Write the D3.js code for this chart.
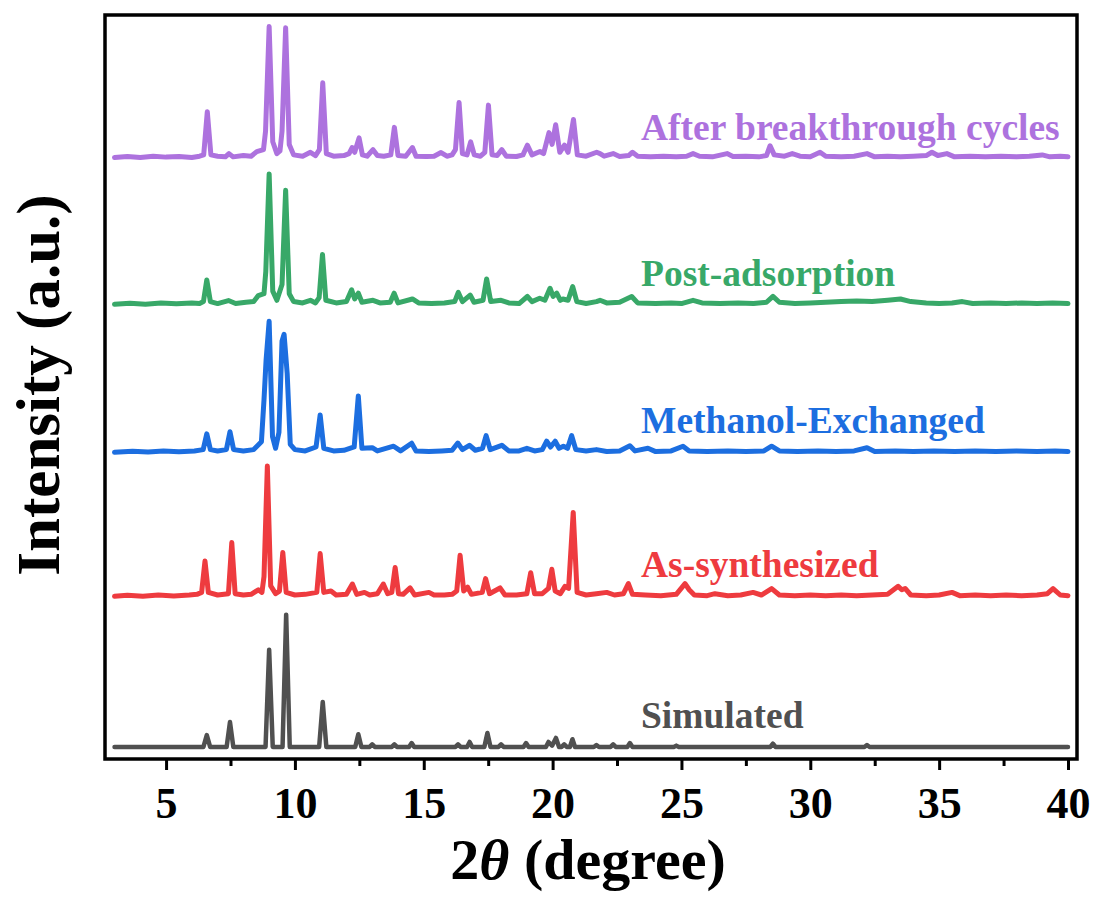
<!DOCTYPE html>
<html>
<head>
<meta charset="utf-8">
<script src="https://cdn.jsdelivr.net/npm/d3@7"></script>
<style>
  html, body { margin: 0; padding: 0; background: #fff; }
  svg { display: block; }
  text { font-family: "Liberation Serif", "Times New Roman", serif; font-weight: bold; }
</style>
</head>
<body>
<svg id="chart" width="1096" height="899"></svg>
<script>
// Series names, colours and vertical offsets (intensity units, stacked)
const seriesNames = ["After breakthrough cycles", "Post-adsorption", "Methanol-Exchanged", "As-synthesized", "Simulated"];
const seriesColors = ["#ad72de", "#38a868", "#1c6ee0", "#ee3b3f", "#505050"];
const seriesOffsets = [450, 338, 225, 115, 0];

// Traces: [2θ (degree), intensity (a.u., strongest peak ≈ 100)]
const afterCycles = [[3,0],[3.5,0.8],[4,0],[4.5,1],[5,0.3],[5.5,0.8],[6,0],[6.3,1],[6.46,2],[6.6,35],[6.74,2],[7,1],[7.3,0.5],[7.44,3],[7.6,0.5],[8,1.5],[8.3,1],[8.52,4.5],[8.78,6],[8.86,20],[9.0,100],[9.14,12],[9.3,3],[9.42,5],[9.5,20],[9.64,99],[9.78,10],[9.95,2],[10.3,1],[10.6,4],[10.8,1.5],[10.95,6],[11.08,57],[11.22,3],[11.5,1],[11.9,1.5],[12.1,3],[12.22,7.6],[12.32,4],[12.49,15],[12.62,2],[12.8,1],[13.03,6],[13.2,1.5],[13.45,1],[13.72,2],[13.86,23],[14.0,1.5],[14.3,1],[14.56,7.6],[14.7,1],[15.1,0.8],[15.4,1],[15.67,3.8],[15.9,1],[16.1,2],[16.23,6],[16.37,42],[16.5,3],[16.68,2],[16.82,12],[16.96,2],[17.2,1],[17.37,4],[17.51,40],[17.65,2],[17.85,1.5],[18.03,6],[18.2,1],[18.6,0.8],[18.85,2],[19.02,9.4],[19.2,2],[19.51,4.6],[19.65,3],[19.86,19],[19.98,10],[20.12,25],[20.28,4],[20.46,9.4],[20.6,4],[20.81,29],[20.96,2],[21.3,1],[21.71,4],[21.84,3],[22.0,1],[22.35,3],[22.6,0.8],[22.95,1.5],[23.1,4],[23.3,1],[23.8,0.5],[24.3,1],[24.8,0.5],[25.2,1],[25.45,3],[25.7,1],[26.2,0.5],[26.77,3],[27.0,0.8],[27.5,1],[28.0,0.5],[28.3,1.5],[28.44,9],[28.6,2],[29.0,1],[29.3,3],[29.6,1],[30.0,0.5],[30.38,4],[30.6,1],[31.2,0.5],[31.7,1],[32.2,3],[32.5,0.5],[33.0,1],[33.5,0.5],[34.0,1],[34.5,1.5],[34.72,4],[34.95,1.5],[35.3,3],[35.6,0.5],[36.2,1],[36.8,0.5],[37.4,1],[38.0,0.5],[38.5,1],[39.0,2],[39.3,0.5],[39.7,1],[40,0.5]];

const postAdsorption = [[3,0],[3.6,0.8],[4.2,0],[4.8,1],[5.4,0.3],[6.0,1],[6.3,0.5],[6.45,2],[6.58,18.5],[6.72,2],[7.0,0.5],[7.42,2.8],[7.7,0.5],[8.1,1.5],[8.4,2],[8.58,6.6],[8.8,8],[8.87,25],[9.0,99.5],[9.14,10],[9.3,3],[9.5,15],[9.64,87],[9.78,8],[9.95,2],[10.3,1],[10.6,3],[10.8,1],[10.94,5],[11.07,38],[11.2,3],[11.6,1],[12.0,2],[12.2,11],[12.32,4],[12.46,8.4],[12.6,1.5],[13.03,3],[13.3,1],[13.7,1.5],[13.85,8.4],[14.0,1],[14.56,4],[14.8,1],[15.3,0.5],[15.8,1],[16.2,2],[16.34,9],[16.5,2],[16.8,7],[16.95,1.5],[17.3,3],[17.44,19.3],[17.6,2],[18.0,3],[18.3,1],[18.7,0.5],[19.02,5.9],[19.2,2],[19.5,4.6],[19.7,3],[19.9,12.2],[20.02,6],[20.16,8.4],[20.3,3],[20.4,4],[20.6,3],[20.78,13.4],[20.94,2],[21.3,0.5],[21.7,2],[21.84,3],[22.1,1],[22.6,1.5],[23.07,5.9],[23.3,1],[24.0,0.5],[24.6,1],[25.0,0.5],[25.45,3],[25.8,1],[26.5,0.5],[27.2,1],[27.8,0.5],[28.3,1.5],[28.55,6],[28.8,1.5],[29.4,0.5],[30.0,1],[30.6,1.5],[31.2,2],[31.8,2.5],[32.4,2],[33.0,3],[33.5,4],[33.9,2],[34.5,1],[35.0,0.5],[35.5,1],[35.9,2],[36.3,0.5],[37.0,1],[37.6,0.5],[38.2,1],[38.8,0.5],[39.4,1],[40,0.5]];

const methanolExchanged = [[3,0],[3.7,0.8],[4.3,0.2],[4.9,1],[5.5,0.3],[6.1,1],[6.44,2],[6.58,14],[6.72,2],[7.0,1],[7.34,2],[7.48,15.7],[7.62,2],[8.0,1],[8.4,2],[8.7,8],[8.8,40],[8.88,70],[9.0,100],[9.13,12],[9.25,3],[9.38,15],[9.5,85],[9.58,90],[9.7,60],[9.82,6],[10.0,2],[10.4,1],[10.82,4],[10.98,28.5],[11.12,3],[11.5,1],[11.9,1.5],[12.3,4],[12.46,43],[12.6,3],[13.0,3.5],[13.2,1],[13.83,4.6],[14.1,1],[14.53,6.9],[14.7,1],[15.2,0.5],[15.7,1],[16.1,1.5],[16.32,7],[16.5,2],[16.77,5.3],[17.0,1.5],[17.28,3],[17.42,12.7],[17.58,2],[18.03,5.3],[18.3,1],[18.7,1],[19.0,3],[19.3,1],[19.6,2],[19.77,8.4],[19.92,4],[20.1,8.4],[20.25,3],[20.42,4.6],[20.58,3],[20.74,12.7],[20.9,2],[21.3,1],[21.7,2],[22.1,0.5],[22.6,1],[23.0,5],[23.2,1],[23.7,3],[24.0,0.5],[24.6,1],[25.06,4.6],[25.3,1],[26.0,0.5],[26.8,1],[27.5,0.5],[28.2,1],[28.5,4.6],[28.8,1],[29.5,0.5],[30.3,1],[31.0,0.5],[31.7,1],[32.2,3.4],[32.5,0.5],[33.3,1],[34.0,0.5],[34.8,1],[35.6,0.5],[36.4,1],[37.2,0.5],[38.0,1],[38.8,0.5],[39.5,1],[40,0.5]];

const asSynthesized = [[3,0],[3.5,0.8],[4.1,0],[4.7,1],[5.3,0.3],[5.9,1],[6.2,1.5],[6.38,3],[6.51,27],[6.64,3],[7.0,1],[7.42,2],[7.55,41],[7.68,2],[8.0,1],[8.3,1.5],[8.58,5],[8.72,3],[8.8,15],[8.93,99.5],[9.06,8],[9.25,2],[9.4,4],[9.53,33.4],[9.66,3],[10.0,1],[10.4,1.5],[10.85,3],[10.98,32.6],[11.12,3],[11.4,4],[11.6,1],[12.0,1.5],[12.23,9.4],[12.4,1.5],[12.7,3],[12.9,1],[13.2,2],[13.43,9.4],[13.6,2],[13.76,3],[13.89,22],[14.02,2],[14.2,1.5],[14.47,6.4],[14.65,1],[15.2,3],[15.4,1],[15.8,1],[16.1,1.5],[16.28,4],[16.41,31.3],[16.55,4],[16.7,7],[16.85,1.5],[17.27,3],[17.4,13.5],[17.55,2],[17.96,6.4],[18.15,1],[18.6,1],[19.0,2],[19.15,18],[19.3,2],[19.6,2],[19.84,6],[19.97,20.6],[20.1,4],[20.3,2],[20.48,7.6],[20.62,6],[20.8,64],[20.95,3],[21.3,1],[21.7,2],[22.1,3],[22.4,1],[22.75,2],[22.94,9.7],[23.1,1.5],[23.6,1],[24.2,0.5],[24.8,1.5],[25.14,9.7],[25.3,5],[25.5,1],[26.0,0.5],[26.3,2],[26.8,0.5],[27.3,1],[27.78,3],[28.1,1],[28.5,5.9],[28.8,1],[29.4,0.5],[30.0,1],[30.6,0.5],[31.2,1],[31.8,0.5],[32.4,1],[33.0,1.5],[33.41,7.6],[33.55,5],[33.68,6],[33.9,1],[34.5,0.5],[35.0,1],[35.5,3],[35.8,0.5],[36.4,1],[37.0,0.5],[37.6,1],[38.2,0.5],[38.8,1],[39.2,2],[39.42,5.9],[39.7,1],[40,0.5]];

const simulated = [[3,0],[6.45,0],[6.58,9],[6.71,0],[7.35,0],[7.48,19],[7.61,0],[8.86,0],[9.0,74.3],[9.14,0],[9.52,0],[9.66,101],[9.8,0],[10.94,0],[11.08,34.4],[11.22,0],[12.34,0],[12.46,9.7],[12.58,0],[12.9,0],[13.0,2],[13.1,0],[13.76,0],[13.86,2],[13.96,0],[14.43,0],[14.53,3],[14.63,0],[16.23,0],[16.33,2],[16.43,0],[16.68,0],[16.78,3.8],[16.88,0],[17.35,0],[17.47,10.7],[17.59,0],[17.9,0],[18.0,2],[18.1,0],[18.87,0],[18.97,3],[19.07,0],[19.74,0],[19.84,3.8],[19.98,1],[20.13,6.9],[20.25,0],[20.35,0],[20.45,2],[20.55,0],[20.67,0],[20.77,5.9],[20.87,0],[21.6,0],[21.7,1.5],[21.8,0],[22.25,0],[22.35,2],[22.45,0],[22.9,0],[23.0,3],[23.1,0],[24.7,0],[24.8,1],[24.9,0],[28.45,0],[28.55,2.5],[28.65,0],[32.1,0],[32.2,1.5],[32.3,0],[40,0]];

const seriesData = [afterCycles, postAdsorption, methanolExchanged, asSynthesized, simulated];

// Axis ticks
const majorTicks = [5, 10, 15, 20, 25, 30, 35, 40];
const minorTicks = [7.5, 12.5, 17.5, 22.5, 27.5, 32.5, 37.5];

// Layout
const frame = { left: 105, right: 1077, top: 15, bottom: 759 };
const svg = d3.select("#chart");

const x = d3.scaleLinear().domain([2.63, 40.35]).range([frame.left, frame.right]);
const y = d3.scaleLinear().domain([-9.2, 558.8]).range([frame.bottom, frame.top]);

// Traces
const line = d3.line().x(d => x(d[0])).y(d => y(d[1]));
seriesData.forEach((data, i) => {
  const off = seriesOffsets[i];
  svg.append("path")
    .datum(data.map(d => [d[0], d[1] + off]))
    .attr("fill", "none")
    .attr("stroke", seriesColors[i])
    .attr("stroke-width", i === 4 ? 4.5 : 5)
    .attr("stroke-linejoin", "round")
    .attr("stroke-linecap", "round")
    .attr("d", line);
});

// Series labels
const labelBaselines = [140, 286, 433, 577, 728];
seriesNames.forEach((name, i) => {
  svg.append("text")
    .attr("x", 641)
    .attr("y", labelBaselines[i])
    .attr("fill", seriesColors[i])
    .attr("font-size", 37.5)
    .text(name);
});

// Frame
svg.append("rect")
  .attr("x", frame.left).attr("y", frame.top)
  .attr("width", frame.right - frame.left)
  .attr("height", frame.bottom - frame.top)
  .attr("fill", "none")
  .attr("stroke", "#000")
  .attr("stroke-width", 3.5);

// Bottom axis: major ticks with labels, minor ticks without
const axisMajor = d3.axisBottom(x).tickValues(majorTicks).tickSize(11).tickPadding(17).tickFormat(d3.format("d"));
const gMajor = svg.append("g").attr("transform", `translate(0,${frame.bottom})`).call(axisMajor);
gMajor.select(".domain").remove();
gMajor.selectAll("line").attr("stroke", "#000").attr("stroke-width", 3);
gMajor.selectAll("text")
  .attr("fill", "#000")
  .style("font-family", "'Liberation Serif', 'Times New Roman', serif")
  .style("font-weight", "bold")
  .style("font-size", "44px");

const axisMinor = d3.axisBottom(x).tickValues(minorTicks).tickSize(7).tickFormat("");
const gMinor = svg.append("g").attr("transform", `translate(0,${frame.bottom})`).call(axisMinor);
gMinor.select(".domain").remove();
gMinor.selectAll("line").attr("stroke", "#000").attr("stroke-width", 3);

// Axis titles
const xTitle = svg.append("text")
  .attr("x", 588)
  .attr("y", 879)
  .attr("text-anchor", "middle")
  .attr("font-size", 58)
  .attr("fill", "#000");
xTitle.append("tspan").text("2");
xTitle.append("tspan").attr("font-style", "italic").text("θ");
xTitle.append("tspan").text(" (degree)");

svg.append("text")
  .attr("transform", "translate(59,385) rotate(-90)")
  .attr("text-anchor", "middle")
  .attr("font-size", 61)
  .attr("fill", "#000")
  .text("Intensity (a.u.)");
</script>
</body>
</html>
